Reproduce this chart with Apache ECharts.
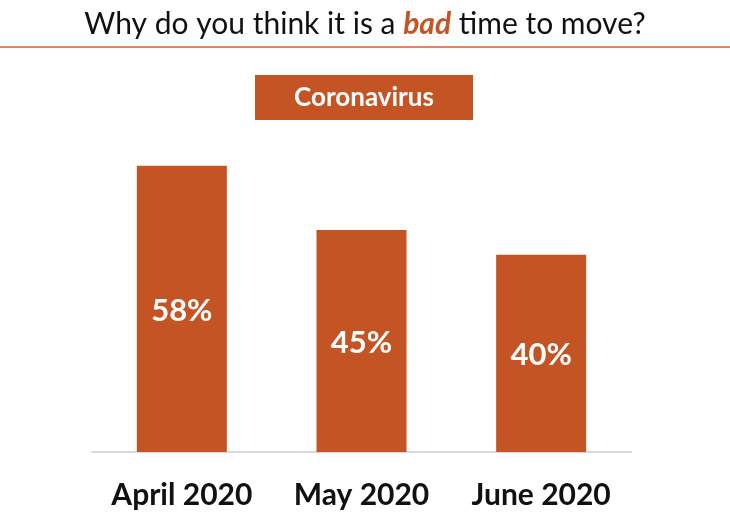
<!DOCTYPE html>
<html>
<head>
<meta charset="utf-8">
<script src="https://cdn.jsdelivr.net/npm/echarts@6/dist/echarts.min.js"></script>
<style>
  html, body { margin: 0; padding: 0; background: #fff; }
  #chart { width: 730px; height: 512px; }
</style>
</head>
<body>
<div id="chart"></div>
<script>
// Share of respondents citing the coronavirus as the reason it is a bad time to move
const months = ['April 2020', 'May 2020', 'June 2020'];
const coronavirusShare = [58, 45, 40];

const ORANGE = '#C55424';
const FONT = 'Lato, "Open Sans", sans-serif';

const chart = echarts.init(document.getElementById('chart'));
chart.setOption({
  animation: false,
  title: {
    text: '{n|Why do you think it is a }{b|bad}{n| time to move?}',
    left: 'center',
    top: 4,
    textStyle: {
      rich: {
        n: { fontFamily: FONT, fontSize: 30, color: '#111', fontWeight: 'normal' },
        b: { fontFamily: FONT, fontSize: 30, color: ORANGE, fontWeight: 'bold', fontStyle: 'italic' }
      }
    }
  },
  graphic: [
    {
      type: 'line',
      shape: { x1: 0, y1: 47, x2: 730, y2: 47 },
      style: { stroke: '#E0875F', lineWidth: 2 }
    },
    {
      type: 'group',
      left: 255,
      top: 75,
      children: [
        { type: 'rect', shape: { x: 0, y: 0, width: 218, height: 45 }, style: { fill: ORANGE } },
        {
          type: 'text',
          x: 109, y: 23,
          style: {
            text: 'Coronavirus', fill: '#fff', font: 'bold 26px ' + FONT,
            textAlign: 'center', textVerticalAlign: 'middle'
          }
        }
      ]
    }
  ],
  grid: { left: 92, right: 99, top: 156, height: 296 },
  xAxis: {
    type: 'category',
    data: months,
    axisLine: { lineStyle: { color: '#D9D9D9', width: 2 } },
    axisTick: { show: false },
    axisLabel: {
      interval: 0,
      hideOverlap: false,
      color: '#111', fontFamily: FONT, fontSize: 30, fontWeight: 'bold', margin: 28
    }
  },
  yAxis: {
    type: 'value', min: 0, max: 60,
    show: false,
    splitLine: { show: false }
  },
  series: [{
    type: 'bar',
    data: coronavirusShare,
    barWidth: 90,
    itemStyle: { color: ORANGE },
    label: {
      show: true,
      position: 'inside',
      offset: [0, 2],
      formatter: '{c}%',
      color: '#fff',
      fontFamily: FONT,
      fontSize: 31,
      fontWeight: 'bold'
    }
  }]
});
</script>
</body>
</html>
